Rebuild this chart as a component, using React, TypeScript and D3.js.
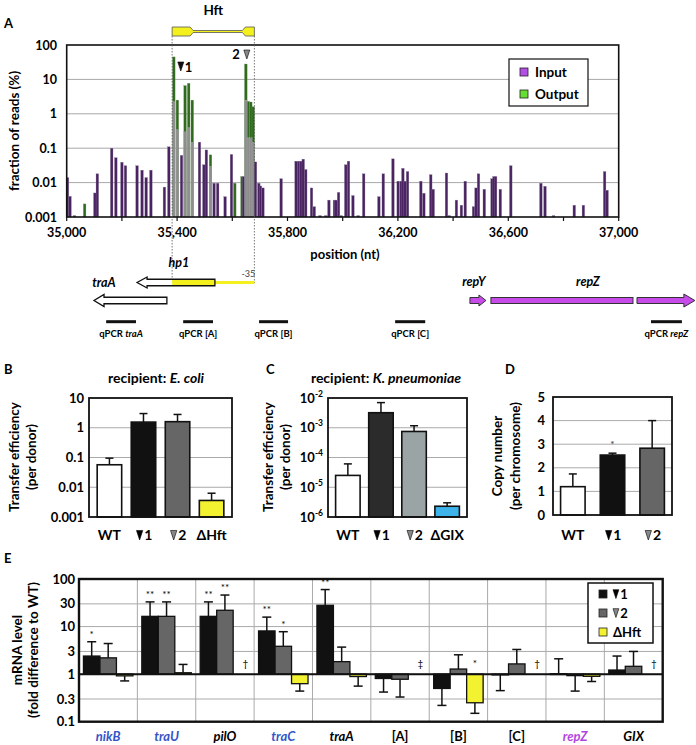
import React from "react";
import * as d3 from "d3";

const FONT = "Lato, 'Open Sans', 'DejaVu Sans', sans-serif";

// ===== Panel A data: [position (nt), fraction of reads (%)] =====
const inputReads: [number, number][] = [
  [35003, 0.014], [35012, 0.004], [35028, 0.0011], [35102, 0.005], [35111, 0.018], [35163, 0.1],
  [35178, 0.053], [35200, 0.039], [35213, 0.031], [35255, 0.031], [35273, 0.023], [35288, 0.014],
  [35305, 0.023], [35354, 0.0074], [35370, 0.11], [35388, 2.3], [35401, 0.35], [35416, 0.062],
  [35429, 0.3], [35442, 0.4], [35455, 0.15], [35481, 0.15], [35497, 0.033], [35506, 0.089],
  [35521, 0.03], [35534, 0.0096], [35547, 0.0096], [35574, 0.0039], [35597, 0.066], [35641, 0.015],
  [35649, 2.5], [35658, 0.2], [35667, 0.2], [35676, 0.15], [35684, 0.04], [35696, 0.0096],
  [35702, 0.008], [35711, 0.007], [35777, 0.013], [35831, 0.042], [35840, 0.042], [35849, 0.042],
  [35857, 0.048], [35866, 0.024], [35887, 0.007], [35897, 0.002], [35918, 0.0011], [35939, 0.0011],
  [35950, 0.0031], [35970, 0.0031], [35976, 0.0031], [35985, 0.0052], [35994, 0.0011], [36011, 0.033],
  [36021, 0.042], [36037, 0.0042], [36056, 0.0011], [36076, 0.018], [36131, 0.0039], [36147, 0.018],
  [36182, 0.049], [36201, 0.011], [36212, 0.011], [36218, 0.026], [36226, 0.011], [36235, 0.021],
  [36283, 0.011], [36294, 0.0049], [36319, 0.017], [36328, 0.0064], [36376, 0.019], [36386, 0.0011],
  [36412, 0.0031], [36430, 0.0022], [36444, 0.011], [36474, 0.002], [36483, 0.007], [36492, 0.018],
  [36513, 0.0064], [36541, 0.013], [36548, 0.015], [36554, 0.015], [36571, 0.0064], [36609, 0.031],
  [36718, 0.0096], [36733, 0.0078], [36764, 0.0011], [36839, 0.0022], [36872, 0.0022], [36949, 0.021],
  [36958, 0.006],
];
const outputReads: [number, number][] = [
  [35065, 0.0024], [35388, 45], [35401, 2.5], [35429, 6.6], [35442, 7.7], [35455, 2.5],
  [35521, 0.064], [35609, 0.0096], [35635, 0.015], [35649, 28], [35658, 2.3], [35667, 2.2], [35676, 1.6],
];
const aXTicks = [35000, 35400, 35800, 36200, 36600, 37000];
const aYTicks = [0.001, 0.01, 0.1, 1, 10, 100];
const hftRegion = [35382, 35680];
const insertion1 = 35388;
const insertion2 = 35649;

// gene map (nt, tail -> tip)
const hp1Gene = [35537, 35255];
const traAGene = [35363, 35099];
const repYGene = [36461, 36519];
const repZGene = [36537, 37276];
const repZBreak = 37059;
const qpcrNames = ["traA", "[A]", "[B]", "[C]", "repZ"];
const qpcrStart = [35143, 35422, 35697, 36190, 37117];
const qpcrEnd = [35251, 35530, 35802, 36299, 37229];

// ===== Panel B =====
const bLabels = ["WT", "▼1", "▼2", "ΔHft"];
const bValues = [0.057, 1.55, 1.6, 0.0036];
const bErrors = [0.095, 3.0, 2.8, 0.0063];
const bTicks = [0.001, 0.01, 0.1, 1, 10];

// ===== Panel C =====
const cLabels = ["WT", "▼1", "▼2", "ΔGIX"];
const cValues = [2.5e-5, 3.2e-3, 7.5e-4, 2.3e-6];
const cErrors = [6.1e-5, 7e-3, 1.17e-3, 3e-6];
const cTicks = [1e-6, 1e-5, 1e-4, 1e-3, 1e-2];

// ===== Panel D =====
const dLabels = ["WT", "▼1", "▼2"];
const dValues = [1.2, 2.54, 2.83];
const dErrors = [1.74, 2.62, 4.0];
const dSig = ["", "*", ""];
const dTicks = [0, 1, 2, 3, 4, 5];

// ===== Panel E =====
const eCategories = ["nikB", "traU", "pilO", "traC", "traA", "[A]", "[B]", "[C]", "repZ", "GIX"];
const eV1 = [2.4, 16.4, 16.4, 8.1, 28, 0.81, 0.5, 0.98, 1.02, 1.22];
const eV1Err = [4.8, 33, 33, 15.8, 60, 0.42, 0.22, 0.45, 2.1, 2.4];
const eV2 = [2.2, 16.4, 22, 3.85, 1.83, 0.78, 1.28, 1.64, 0.93, 1.46];
const eV2Err = [4.4, 33, 46, 7.8, 3.7, 0.33, 2.55, 3.3, 0.44, 3.0];
const eHft = [0.92, 1.07, null, 0.63, 0.89, null, 0.25, null, 0.9, null];
const eHftErr = [0.72, 1.6, null, 0.44, 0.56, null, 0.15, null, 0.7, null];
const eV1Sig = ["*", "**", "**", "**", "**", "", "", "", "", ""];
const eV2Sig = ["", "**", "**", "*", "", "", "", "", "", ""];
const eHftSig = ["", "", "†", "", "", "‡", "*", "†", "", "†"];
const eTicks = [0.1, 0.3, 1, 3, 10, 30, 100];
const eSeriesNames = ["▼1", "▼2", "ΔHft"];

// styles
const eLabelColor = ["#3355c8", "#3355c8", "#000", "#3355c8", "#000", "#000", "#000", "#000", "#b046e0", "#000"];
const eLabelItalic = [true, true, true, true, true, false, false, false, true, true];

function arrowPath(x0: number, x1: number, yc: number, bh: number, hh: number, hl: number) {
  const s = Math.sign(x1 - x0);
  const xb = x1 - s * hl;
  return `M${x0},${yc - bh / 2} L${xb},${yc - bh / 2} L${xb},${yc - hh / 2} L${x1},${yc} L${xb},${yc + hh / 2} L${xb},${yc + bh / 2} L${x0},${yc + bh / 2} Z`;
}

function Tri({ x, y, fill, w = 6, h = 9 }: any) {
  return <path d={`M${x - w / 2},${y} L${x + w / 2},${y} L${x},${y + h} Z`} fill={fill} stroke="#000" strokeWidth={0.6} />;
}

function Label({ cx, y, text, size = 14, anchor = "middle" }: any) {
  if (text.startsWith("▼")) {
    const num = text.slice(1);
    const fill = num === "1" ? "#000" : "#888";
    const tw = size * 0.45;
    const th = size * 0.68;
    const left = anchor === "middle" ? cx - 7 : cx;
    return (
      <g>
        <Tri x={left + tw / 2} y={y - th} fill={fill} w={tw} h={th} />
        <text x={left + tw + 1.5} y={y} fontSize={size} fontWeight={700}>{num}</text>
      </g>
    );
  }
  return <text x={cx} y={y} textAnchor={anchor} fontSize={size} fontWeight={700}>{text}</text>;
}

function PanelA() {
  const x = d3.scaleLinear().domain([35000, 37000]).range([66.7, 618.7]);
  const y = d3.scaleLog().domain([0.001, 100]).range([217, 45]);
  const bw = 2.6;
  const outPos = new Set(outputReads.map((d) => d[0]));
  const hs = x(hftRegion[0]);
  const he = x(hftRegion[1]);
  const minor = d3.range(35000, 37001, 200);
  const hftPath = `M${hs},27 H${hs + 18} L${hs + 21},30.5 H${he - 12} L${he - 9},27 H${he} V36 H${he - 9} L${he - 12},32.5 H${hs + 21} L${hs + 18},36 H${hs} Z`;
  const ycA = 282.5;
  const ycB = 300.5;
  const hpTail = x(hp1Gene[0]);
  const hpTip = x(hp1Gene[1]);
  return (
    <g>
      <text x={4} y={28} fontSize={13} fontWeight={700}>A</text>
      <text x={(hs + he) / 2} y={15} textAnchor="middle" fontSize={13.5} fontWeight={700}>Hft</text>
      <path d={hftPath} fill="#f3f01e" stroke="#555" strokeWidth={0.8} />
      {aYTicks.slice(1, -1).map((t) => (
        <line key={t} x1={66.7} x2={618.7} y1={y(t)} y2={y(t)} stroke="#a8a8a8" strokeWidth={1} />
      ))}
      {outputReads.map(([p, v]) => (
        <rect key={"o" + p} x={x(p) - bw / 2} y={y(v)} width={bw} height={y(0.001) - y(v)} fill="#2f6a1e" stroke="#6f9a60" strokeWidth={0.3} />
      ))}
      {inputReads.map(([p, v]) => (
        <rect key={"i" + p} x={x(p) - bw / 2} y={y(v)} width={bw} height={y(0.001) - y(v)}
          fill={outPos.has(p) ? "#8d8d8d" : "#4a2462"} stroke={outPos.has(p) ? "#b0b0b0" : "#8a7a98"} strokeWidth={0.3} />
      ))}
      <rect x={66.7} y={45} width={552} height={172} fill="none" stroke="#111" strokeWidth={1.6} />
      {minor.map((t) => (
        <line key={t} x1={x(t)} x2={x(t)} y1={217} y2={221} stroke="#111" strokeWidth={1.2} />
      ))}
      {aXTicks.map((t) => (
        <text key={t} x={x(t)} y={237} textAnchor="middle" fontSize={12.5} fontWeight={700}>{d3.format(",")(t)}</text>
      ))}
      {aYTicks.map((t) => (
        <text key={t} x={57} y={y(t) + 4.5} textAnchor="end" fontSize={12.5} fontWeight={700}>{String(t)}</text>
      ))}
      <text transform={`translate(19,131) rotate(-90)`} textAnchor="middle" fontSize={13.5} fontWeight={700}>fraction of reads (%)</text>
      <text x={345} y={259} textAnchor="middle" fontSize={13} fontWeight={700}>position (nt)</text>
      {/* dotted Hft guides */}
      <line x1={hs} x2={hs} y1={36} y2={281} stroke="#555" strokeWidth={0.8} strokeDasharray="1.5,1.5" />
      <line x1={he} x2={he} y1={36} y2={283} stroke="#555" strokeWidth={0.8} strokeDasharray="1.5,1.5" />
      {/* insertion markers */}
      <Tri x={x(insertion1) + 7} y={62} fill="#111" w={6} h={9} />
      <text x={x(insertion1) + 11} y={72} fontSize={13} fontWeight={700}>1</text>
      <text x={x(insertion2) - 6} y={59} textAnchor="end" fontSize={13} fontWeight={700}>2</text>
      <Tri x={x(insertion2) + 1} y={50} fill="#888" w={6} h={9} />
      {/* legend */}
      <rect x={509} y={59} width={79} height={47} fill="#fff" stroke="#111" strokeWidth={1.2} />
      <rect x={520} y={68} width={8} height={8} fill="#b44fe6" stroke="#222" strokeWidth={0.8} />
      <text x={535} y={77} fontSize={13.5} fontWeight={700}>Input</text>
      <rect x={520} y={90} width={8} height={8} fill="#66dd33" stroke="#222" strokeWidth={0.8} />
      <text x={535} y={99} fontSize={13.5} fontWeight={700}>Output</text>

      {/* gene map */}
      <text x={(hpTip + hpTail) / 2 + 3} y={267} textAnchor="middle" fontSize={12.5} fontWeight={700} fontStyle="italic">hp1</text>
      <text x={x(hftRegion[1]) - 6} y={277} textAnchor="middle" fontSize={9} fill="#444">-35</text>
      <text x={104} y={287} textAnchor="middle" fontSize={12.5} fontWeight={700} fontStyle="italic">traA</text>
      <rect x={hpTail} y={ycA - 1.5} width={he - hpTail} height={3} fill="#f3f01e" />
      <path d={arrowPath(hpTail, hpTip, ycA, 6.5, 11, 10)} fill="#fff" />
      <rect x={hs} y={ycA - 3.25} width={hpTail - hs} height={6.5} fill="#f3f01e" />
      <path d={arrowPath(hpTail, hpTip, ycA, 6.5, 11, 10)} fill="none" stroke="#111" strokeWidth={1.3} />
      <path d={arrowPath(x(traAGene[0]), x(traAGene[1]), ycB, 6.5, 12, 10)} fill="#fff" stroke="#111" strokeWidth={1.3} />
      <text x={(x(repYGene[0]) + x(repYGene[1])) / 2 - 4} y={286} textAnchor="middle" fontSize={12.5} fontWeight={700} fontStyle="italic">repY</text>
      <path d={arrowPath(x(repYGene[0]), x(repYGene[1]), ycB, 6, 11, 7)} fill="#c64be8" stroke="#333" strokeWidth={1} />
      <text x={588} y={286} textAnchor="middle" fontSize={12.5} fontWeight={700} fontStyle="italic">repZ</text>
      <rect x={x(repZGene[0])} y={ycB - 3} width={x(repZBreak) - 2 - x(repZGene[0])} height={6} fill="#c64be8" stroke="#333" strokeWidth={1} />
      <path d={arrowPath(x(repZBreak) + 2, x(repZGene[1]), ycB, 6, 13, 11)} fill="#c64be8" stroke="#333" strokeWidth={1} />
      {qpcrNames.map((n, i) => {
        const x0 = x(qpcrStart[i]);
        const x1 = x(qpcrEnd[i]);
        const italic = !n.startsWith("[");
        return (
          <g key={n}>
            <rect x={x0} y={320.2} width={x1 - x0} height={3} fill="#111" />
            <text x={(x0 + x1) / 2} y={337} textAnchor="middle" fontSize={9.5} fontWeight={700}>
              qPCR <tspan fontStyle={italic ? "italic" : "normal"}>{n}</tspan>
            </text>
          </g>
        );
      })}
    </g>
  );
}

function BarPanel({ x0, x1, y0, y1, yScale, ticks, tickFmt, tickX, labels, values, errors, colors, sig }: any) {
  const xp = d3.scalePoint().domain(labels).range([x0, x1]).padding(labels.length === 3 ? 0.5 : 0.6);
  const bw = 24.5;
  const base = y1;
  return (
    <g>
      {ticks.slice(1, -1).map((t: number) => (
        <line key={t} x1={x0} x2={x1} y1={yScale(t)} y2={yScale(t)} stroke="#aaa" strokeWidth={1} />
      ))}
      {labels.map((l: string, i: number) => {
        const cx = xp(l);
        const yv = yScale(values[i]);
        const ye = yScale(errors[i]);
        return (
          <g key={l}>
            <line x1={cx} x2={cx} y1={yv} y2={ye} stroke="#111" strokeWidth={1.5} />
            <line x1={cx - 4} x2={cx + 4} y1={ye} y2={ye} stroke="#111" strokeWidth={1.5} />
            <rect x={cx - bw / 2} y={yv} width={bw} height={base - yv} fill={colors[i]} stroke="#111" strokeWidth={1.6} />
            {sig && sig[i] ? (
              <text x={cx} y={ye - 5} textAnchor="middle" fontSize={10} fill="#333">{sig[i]}</text>
            ) : null}
            <Label cx={cx} y={540} text={l} size={14} />
          </g>
        );
      })}
      <rect x={x0} y={y0} width={x1 - x0} height={y1 - y0} fill="none" stroke="#111" strokeWidth={1.8} />
      {ticks.map((t: number) => (
        <text key={t} x={tickX} y={yScale(t) + 4.5} textAnchor="end" fontSize={13} fontWeight={700}>{tickFmt(t)}</text>
      ))}
    </g>
  );
}

function PanelB() {
  const y = d3.scaleLog().domain([0.001, 10]).range([517, 398]);
  return (
    <g>
      <text x={4} y={374} fontSize={13} fontWeight={700}>B</text>
      <text x={156} y={383} textAnchor="middle" fontSize={14} fontWeight={700}>recipient: <tspan fontStyle="italic">E. coli</tspan></text>
      <text transform={`translate(19,457) rotate(-90)`} textAnchor="middle" fontSize={13.5} fontWeight={700}>Transfer efficiency</text>
      <text transform={`translate(36,457) rotate(-90)`} textAnchor="middle" fontSize={13.5} fontWeight={700}>(per donor)</text>
      <BarPanel x0={89} x1={232} y0={398} y1={517} yScale={y} ticks={bTicks} tickFmt={(t: number) => String(t)} tickX={84}
        labels={bLabels} values={bValues} errors={bErrors} colors={["#ffffff", "#111111", "#666666", "#f2f230"]} />
    </g>
  );
}

function PanelC() {
  const y = d3.scaleLog().domain([1e-6, 1e-2]).range([517, 398]);
  return (
    <g>
      <text x={266} y={374} fontSize={13} fontWeight={700}>C</text>
      <text x={386} y={383} textAnchor="middle" fontSize={14} fontWeight={700}>recipient: <tspan fontStyle="italic">K. pneumoniae</tspan></text>
      <text transform={`translate(273,457) rotate(-90)`} textAnchor="middle" fontSize={13.5} fontWeight={700}>Transfer efficiency</text>
      <text transform={`translate(290,457) rotate(-90)`} textAnchor="middle" fontSize={13.5} fontWeight={700}>(per donor)</text>
      <BarPanel x0={328} x1={467} y0={398} y1={517} yScale={y} ticks={cTicks}
        tickFmt={(t: number) => (<>10<tspan dy={-6} fontSize={8.5}>{String(Math.round(Math.log10(t)))}</tspan></>)} tickX={323}
        labels={cLabels} values={cValues} errors={cErrors} colors={["#ffffff", "#2b2b2b", "#9ba4a4", "#3db3ea"]} />
    </g>
  );
}

function PanelD() {
  const y = d3.scaleLinear().domain([0, 5]).range([515, 397]);
  return (
    <g>
      <text x={505} y={374} fontSize={13} fontWeight={700}>D</text>
      <text transform={`translate(502,456) rotate(-90)`} textAnchor="middle" fontSize={13.5} fontWeight={700}>Copy number</text>
      <text transform={`translate(520,456) rotate(-90)`} textAnchor="middle" fontSize={13.5} fontWeight={700}>(per chromosome)</text>
      <BarPanel x0={553} x1={672} y0={397} y1={515} yScale={y} ticks={dTicks} tickFmt={(t: number) => String(t)} tickX={545}
        labels={dLabels} values={dValues} errors={dErrors} colors={["#ffffff", "#111111", "#666666"]} sig={dSig} />
    </g>
  );
}

function PanelE() {
  const x0 = 79, x1 = 662.7, y0 = 579, y1 = 721.7;
  const x = d3.scaleBand().domain(eCategories).range([x0, x1]);
  const sub = d3.scaleBand().domain(["v1", "v2", "h"]).range([0, x.bandwidth()]).paddingInner(0).paddingOuter(0.27);
  const y = d3.scaleLog().domain([0.1, 100]).range([y1, y0]);
  const series = [
    { key: "v1", vals: eV1, errs: eV1Err, sig: eV1Sig, fill: "#111" },
    { key: "v2", vals: eV2, errs: eV2Err, sig: eV2Sig, fill: "#666" },
    { key: "h", vals: eHft, errs: eHftErr, sig: eHftSig, fill: "#f2f230" },
  ];
  const y1v = y(1);
  const bw = sub.bandwidth();
  return (
    <g>
      <text x={4} y={563} fontSize={13} fontWeight={700}>E</text>
      <text transform={`translate(22,650) rotate(-90)`} textAnchor="middle" fontSize={13.5} fontWeight={700}>mRNA level</text>
      <text transform={`translate(38,650) rotate(-90)`} textAnchor="middle" fontSize={13.5} fontWeight={700}>(fold difference to WT)</text>
      {eTicks.slice(1, -1).map((t) => (
        <line key={t} x1={x0} x2={x1} y1={y(t)} y2={y(t)} stroke="#aaa" strokeWidth={1} />
      ))}
      {eCategories.slice(1).map((c) => (
        <line key={c} x1={x(c)} x2={x(c)} y1={y0} y2={y1} stroke="#aaa" strokeWidth={1} />
      ))}
      {eCategories.map((c, i) => (
        <g key={c}>
          {series.map((s) => {
            const cx = (x(c) as number) + (sub(s.key) as number) + bw / 2;
            const v = s.vals[i];
            if (v == null) {
              return s.sig[i] ? (
                <text key={s.key} x={cx + 4} y={y1v - 7} textAnchor="middle" fontSize={10} fill="#000">{s.sig[i]}</text>
              ) : null;
            }
            const yv = y(v);
            const ye = y(s.errs[i] as number);
            const top = Math.min(yv, y1v);
            return (
              <g key={s.key}>
                <line x1={cx} x2={cx} y1={yv} y2={ye} stroke="#111" strokeWidth={1.5} />
                <line x1={cx - 4.5} x2={cx + 4.5} y1={ye} y2={ye} stroke="#111" strokeWidth={1.5} />
                <rect x={cx - bw / 2} y={top} width={bw} height={Math.max(Math.abs(yv - y1v), 0.8)} fill={s.fill} stroke="#111" strokeWidth={1.3} />
                {s.sig[i] ? (
                  <text x={cx} y={v >= 1 ? ye - 4 : y1v - 7} textAnchor="middle" fontSize={10} fill="#000">{s.sig[i]}</text>
                ) : null}
              </g>
            );
          })}
          <text x={(x(c) as number) + x.bandwidth() / 2} y={741} textAnchor="middle" fontSize={13} fontWeight={700}
            fontStyle={eLabelItalic[i] ? "italic" : "normal"} fill={eLabelColor[i]}>{c}</text>
        </g>
      ))}
      <line x1={x0} x2={x1} y1={y1v} y2={y1v} stroke="#111" strokeWidth={2} />
      <rect x={x0} y={y0} width={x1 - x0} height={y1 - y0} fill="none" stroke="#111" strokeWidth={2.4} />
      {eTicks.map((t) => (
        <text key={t} x={75} y={y(t) + 4.5} textAnchor="end" fontSize={13} fontWeight={700}>{String(t)}</text>
      ))}
      {/* legend */}
      <rect x={588} y={583} width={65} height={60} fill="#fff" stroke="#111" strokeWidth={1.5} />
      {eSeriesNames.map((n, i) => (
        <g key={n}>
          <rect x={599} y={590 + i * 19} width={8} height={8} fill={series[i].fill} stroke="#222" strokeWidth={0.8} />
          <Label cx={613} y={598.5 + i * 19} text={n} size={13} anchor="start" />
        </g>
      ))}
    </g>
  );
}

export default function App() {
  return (
    <svg width={696} height={745} style={{ position: "absolute", left: 0, top: 0, display: "block" }} fontFamily={FONT}>
      <rect width={696} height={745} fill="#fff" />
      <PanelA />
      <PanelB />
      <PanelC />
      <PanelD />
      <PanelE />
    </svg>
  );
}
